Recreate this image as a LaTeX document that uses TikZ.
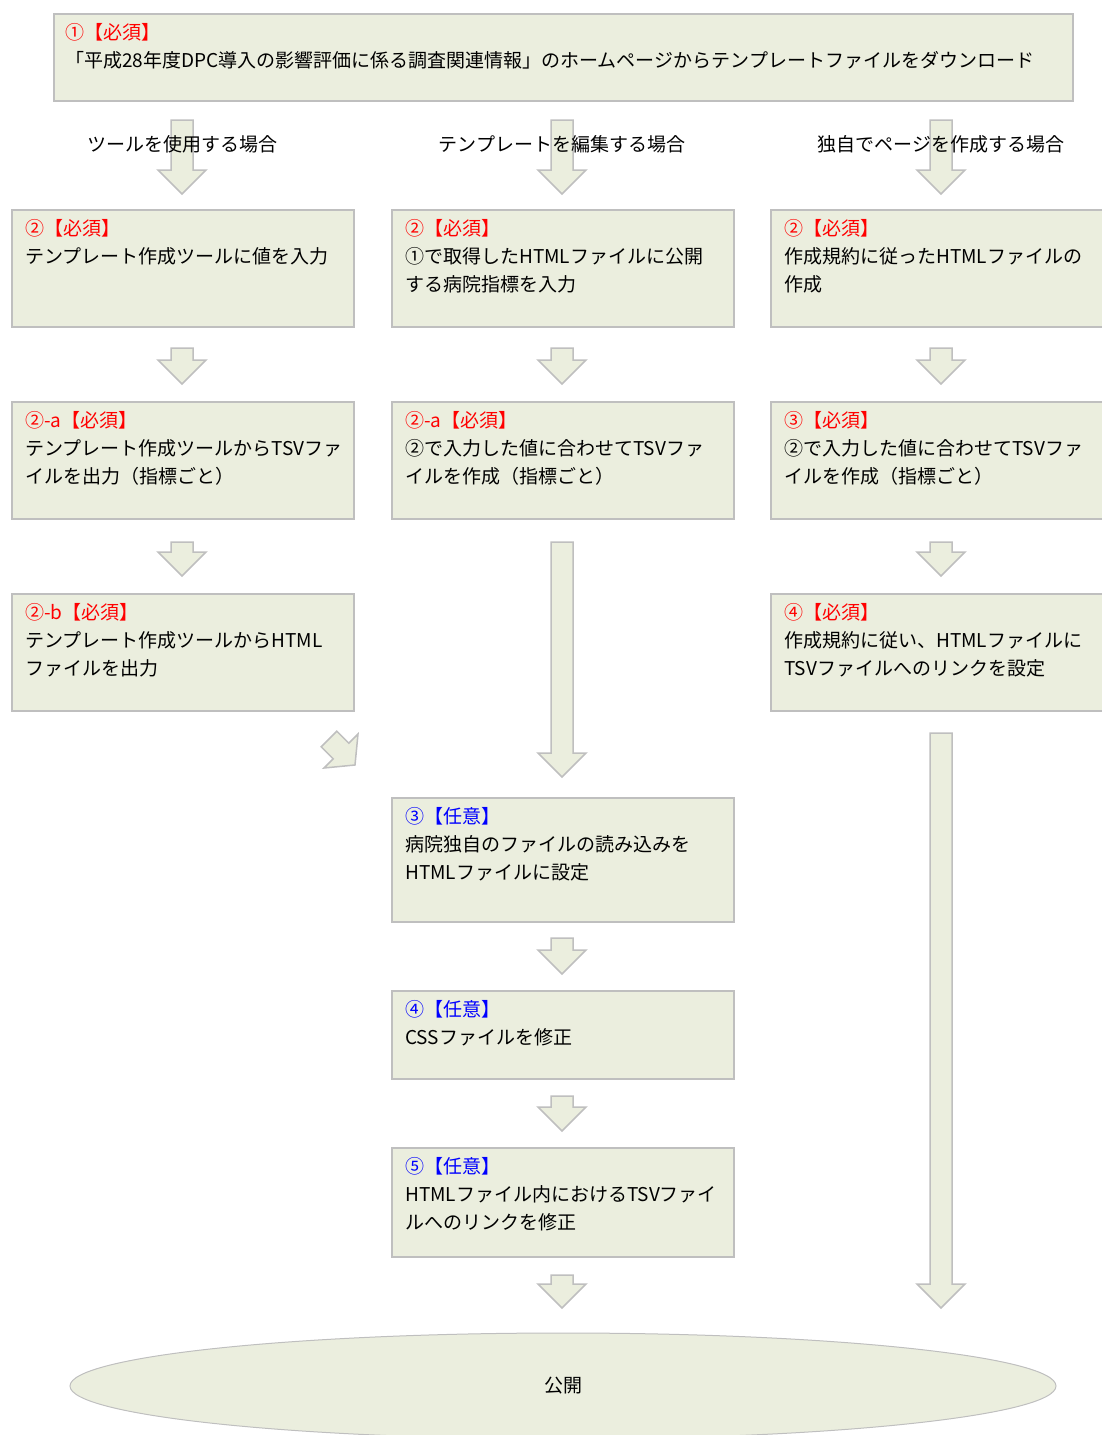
\documentclass[tikz,border=0pt]{standalone}
\usepackage{fontspec}
\setmainfont{Noto Sans CJK JP}
\definecolor{boxfill}{HTML}{EBEEDE}
\definecolor{boxline}{HTML}{BFBFBF}
\definecolor{reqred}{HTML}{FF0000}
\definecolor{optblue}{HTML}{0000FF}
\tikzset{
  stepbox/.style={draw=boxline, fill=boxfill, line width=2pt, inner sep=0pt, anchor=north west},
  steptext/.style={anchor=north west, inner sep=0pt, align=left, font=\fontsize{19}{28}\selectfont},
  headtext/.style={inner sep=0pt, font=\fontsize{19}{24}\selectfont},
  blockarrow/.style={draw=boxline, fill=boxfill, line width=1.5pt, line join=miter},
}
\newcommand\req[1]{{\color{reqred}#1}}
\newcommand\opt[1]{{\color{optblue}#1}}
% vertical block arrow: x, y top, y tip
\newcommand\vdownarrow[3]{%
  \filldraw[blockarrow] (#1-11,#2) -- (#1+11,#2) -- (#1+11,#3-24) -- (#1+24,#3-24)
    -- (#1,#3) -- (#1-24,#3-24) -- (#1-11,#3-24) -- cycle;}
% box: name, x, y, w, h
\newcommand\mybox[5]{\node[stepbox, minimum width=#4pt, minimum height=#5pt] (#1) at (#2,#3) {};}
\begin{document}
\begin{tikzpicture}[x=1pt,y=-1pt]
\useasboundingbox (0,0) rectangle (1102,1435);
% top box
\mybox{top}{53}{13}{1019}{87}
\node[steptext] (toptext) at ([xshift=12pt,yshift=-10pt]top.north west)
  {\req{①【必須】}\\「平成28年度DPC導入の影響評価に係る調査関連情報」のホームページからテンプレートファイルをダウンロード};
% arrows from top
\vdownarrow{182}{120}{194}
\vdownarrow{562}{120}{194}
\vdownarrow{941}{120}{194}
\node[headtext] (h1) at (182,144) {ツールを使用する場合};
\node[headtext] (h2) at (562,144) {テンプレートを編集する場合};
\node[headtext] (h3) at (941,144) {独自でページを作成する場合};
% row 1
\mybox{a1}{11}{209}{342}{117}
\mybox{b1}{391}{209}{342}{117}
\mybox{c1}{770}{209}{342}{117}
\node[steptext] at ([xshift=14pt,yshift=-10pt]a1.north west) {\req{②【必須】}\\テンプレート作成ツールに値を入力};
\node[steptext] at ([xshift=14pt,yshift=-10pt]b1.north west) {\req{②【必須】}\\①で取得したHTMLファイルに公開\\する病院指標を入力};
\node[steptext] at ([xshift=14pt,yshift=-10pt]c1.north west) {\req{②【必須】}\\作成規約に従ったHTMLファイルの\\作成};
\vdownarrow{182}{348}{384}
\vdownarrow{562}{348}{384}
\vdownarrow{941}{348}{384}
% row 2
\mybox{a2}{11}{401}{342}{117}
\mybox{b2}{391}{401}{342}{117}
\mybox{c2}{770}{401}{342}{117}
\node[steptext] at ([xshift=14pt,yshift=-10pt]a2.north west) {\req{②-a【必須】}\\テンプレート作成ツールからTSVファ\\イルを出力（指標ごと）};
\node[steptext] at ([xshift=14pt,yshift=-10pt]b2.north west) {\req{②-a【必須】}\\②で入力した値に合わせてTSVファ\\イルを作成（指標ごと）};
\node[steptext] at ([xshift=14pt,yshift=-10pt]c2.north west) {\req{③【必須】}\\②で入力した値に合わせてTSVファ\\イルを作成（指標ごと）};
\vdownarrow{182}{542}{576}
\vdownarrow{941}{542}{576}
\vdownarrow{562}{542}{777}
% row 3
\mybox{a3}{11}{593}{342}{117}
\mybox{c3}{770}{593}{342}{117}
\node[steptext] at ([xshift=14pt,yshift=-10pt]a3.north west) {\req{②-b【必須】}\\テンプレート作成ツールからHTML\\ファイルを出力};
\node[steptext] at ([xshift=14pt,yshift=-10pt]c3.north west) {\req{④【必須】}\\作成規約に従い、HTMLファイルに\\TSVファイルへのリンクを設定};
% diagonal arrow
\filldraw[blockarrow] (336.8,731.2) -- (348.8,743.2) -- (358,734) -- (355,765)
  -- (324,768) -- (333.2,758.8) -- (321.2,746.8) -- cycle;
\vdownarrow{941}{733}{1308}
% middle lower boxes
\mybox{b3}{391}{797}{342}{124}
\node[steptext] at ([xshift=14pt,yshift=-10pt]b3.north west) {\opt{③【任意】}\\病院独自のファイルの読み込みを\\HTMLファイルに設定};
\vdownarrow{562}{938}{974}
\mybox{b4}{391}{990}{342}{88}
\node[steptext] at ([xshift=14pt,yshift=-10pt]b4.north west) {\opt{④【任意】}\\CSSファイルを修正};
\vdownarrow{562}{1096}{1131}
\mybox{b5}{391}{1147}{342}{109}
\node[steptext] at ([xshift=14pt,yshift=-10pt]b5.north west) {\opt{⑤【任意】}\\HTMLファイル内におけるTSVファイ\\ルへのリンクを修正};
\vdownarrow{562}{1275}{1308}
% final ellipse
\filldraw[draw=boxline, fill=boxfill, line width=1pt] (563,1386) ellipse [x radius=493, y radius=53];
\node[headtext] (pub) at (563,1386) {公開};
\end{tikzpicture}
\end{document}
